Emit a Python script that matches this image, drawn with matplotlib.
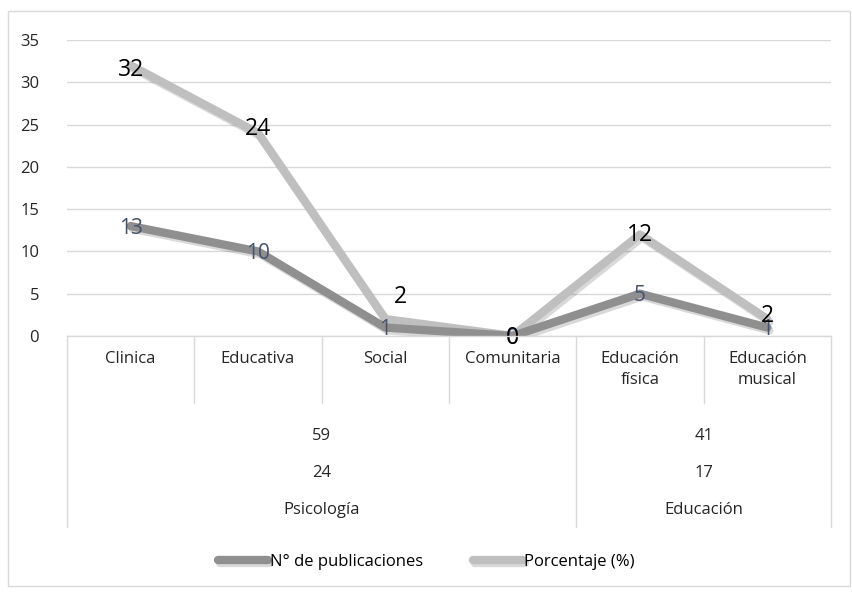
import numpy as np
import matplotlib.pyplot as plt
from matplotlib import patheffects as pe
from matplotlib.lines import Line2D
from matplotlib.patches import Rectangle

plt.rcParams['font.family'] = ['Open Sans', 'DejaVu Sans']

categories = ['Clinica', 'Educativa', 'Social', 'Comunitaria',
              'Educación\nfísica', 'Educación\nmusical']
n_publicaciones = [13, 10, 1, 0, 5, 1]
porcentaje = [32, 24, 2, 0, 12, 2]

groups = ['Psicología', 'Educación']
group_sizes = [4, 2]
group_row1 = [59, 41]
group_row2 = [24, 17]

W, H = 853, 592
fig = plt.figure(figsize=(W / 100, H / 100), dpi=100)
fs = 12
tc = '#262626'

def fx(px):
    return px / W

def fy(py):
    return 1 - py / H

# chart frame
fig.patches.append(Rectangle((fx(8), fy(586)), fx(842), 575 / H,
                             transform=fig.transFigure, fill=False,
                             edgecolor='#d9d9d9', linewidth=1))

left, right, top, bottom = 67, 831, 40, 336
ax = fig.add_axes([fx(left), fy(bottom), fx(right - left), (bottom - top) / H])
ax.set_xlim(0, len(categories))
ax.set_ylim(0, 35)
ax.set_yticks(np.arange(0, 36, 5))
ax.grid(axis='y', color='#d9d9d9', linewidth=1)
ax.set_axisbelow(True)
for s in ax.spines.values():
    s.set_visible(False)
ax.tick_params(axis='y', length=0, pad=20, labelsize=fs, labelcolor=tc)
ax.set_xticks([])

x = np.arange(len(categories)) + 0.5
shadow = [pe.SimpleLineShadow(offset=(1.5, -2), shadow_color='#000000', alpha=0.15),
          pe.Normal()]
ax.plot(x, n_publicaciones, color='#8f8f8f', linewidth=6,
        solid_capstyle='round', solid_joinstyle='round', path_effects=shadow,
        label='N° de publicaciones', zorder=3)
ax.plot(x, porcentaje, color='#bfbfbf', linewidth=6,
        solid_capstyle='round', solid_joinstyle='round', path_effects=shadow,
        label='Porcentaje (%)', zorder=2)

# data labels
for xi, v in zip(x, n_publicaciones):
    ax.annotate(str(v), (xi, v), xytext=(0, -2), textcoords='offset pixels',
                ha='center', va='center', fontsize=15,
                color='#44546a', zorder=5)
pct_offsets = [(0, -5), (0, 4), (15, 22), (0, -2), (0, 0), (0, 3)]
for xi, v, off in zip(x, porcentaje, pct_offsets):
    ax.annotate(str(v), (xi, v), xytext=off, textcoords='offset pixels',
                ha='center', va='center', fontsize=16.5, color='black', zorder=6)

# category axis table
lc = '#d9d9d9'
def vline(px, y0, y1):
    fig.add_artist(Line2D([fx(px), fx(px)], [fy(y0), fy(y1)],
                          transform=fig.transFigure, color=lc, linewidth=1))

fig.add_artist(Line2D([fx(left), fx(right)], [fy(bottom), fy(bottom)],
                      transform=fig.transFigure, color=lc, linewidth=1))
step = (right - left) / len(categories)
bounds = np.cumsum([0] + group_sizes)
for i in range(len(categories) + 1):
    if i in bounds:
        vline(left + i * step, bottom, 527)
    else:
        vline(left + i * step, bottom, 403)
for i, c in enumerate(categories):
    fig.text(fx(left + (i + 0.5) * step), fy(351), c, ha='center', va='top',
             fontsize=fs, color=tc, linespacing=1.45)
for g, a, b, s, e in zip(groups, group_row1, group_row2, bounds[:-1], bounds[1:]):
    cx = fx(left + (s + e) / 2 * step)
    fig.text(cx, fy(436), str(a), ha='center', va='center', fontsize=fs, color=tc)
    fig.text(cx, fy(473), str(b), ha='center', va='center', fontsize=fs, color=tc)
    fig.text(cx, fy(510), g, ha='center', va='center', fontsize=fs, color=tc)

handles, labels = ax.get_legend_handles_labels()
fig.legend(handles, labels, loc='center', bbox_to_anchor=(0.5, fy(562)), ncol=2,
           frameon=False, handlelength=3.0, handletextpad=0.1, columnspacing=3,
           prop={'size': fs})

fig.savefig('out.png', dpi=100)
